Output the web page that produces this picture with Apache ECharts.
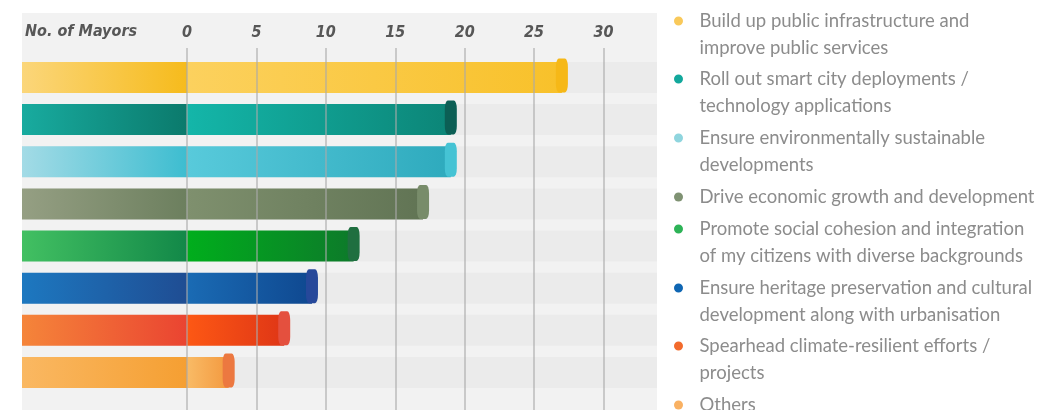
<!DOCTYPE html>
<html><head><meta charset="utf-8">
<script src="https://cdn.jsdelivr.net/npm/echarts@6/dist/echarts.min.js"></script>
<style>html,body{margin:0;padding:0;background:#fff}#c{width:1046px;height:410px}</style>
</head><body><div id="c"></div>
<script>
// ---- data ----
const categories = [
  'Build up public infrastructure and\nimprove public services',
  'Roll out smart city deployments /\ntechnology applications',
  'Ensure environmentally sustainable\ndevelopments',
  'Drive economic growth and development',
  'Promote social cohesion and integration\nof my citizens with diverse backgrounds',
  'Ensure heritage preservation and cultural\ndevelopment along with urbanisation',
  'Spearhead climate-resilient efforts /\nprojects',
  'Others'
];
const values = [27, 19, 19, 17, 12, 9, 7, 3];
const xTicks = [0, 5, 10, 15, 20, 25, 30];
const axisName = 'No. of Mayors';

// ---- styles ----
const dotColors = ['#f9c95a','#12a89c','#8fd5de','#7f9273','#2db357','#0f66b3','#f26a2c','#f9b163'];
const leftGrad = [['#fbd67a','#f6bb1c'],['#18ab9f','#0b7a6c'],['#a3dbe6','#3dbdd0'],['#959f83','#6c7f5e'],
                  ['#42c062','#128848'],['#1d78c0','#1f4d93'],['#f5853a','#ea4431'],['#fab862','#f59f32']];
const rightGrad = [['#fcd15e','#f8c12a'],['#14b6a9','#0c8577'],['#58cadb','#2eaabd'],['#7f906e','#617454'],
                   ['#00ae1c','#0d7a2a'],['#1a6bb4','#0f4890'],['#fd5814','#df3616'],['#f9bb66','#f3993f']];
const curlColors = ['#f6b817','#0c5f55','#45c3d4','#788c6a','#1f6f40','#26489a','#e4503e','#ec7840'];
const lineCenters = [21, 79, 138, 197, 229, 288, 346, 405];

const LEFT_MIN = -11.885, X_MAX = 33.85;
const headFont = {fontFamily: 'DejaVu Sans Condensed', fontStyle: 'italic', fontWeight: 'bold', fontSize: 16, color: '#575757'};
const TOP_DOT = 'path://M0,4.5A4.5,4.5,0,1,1,9,4.5A4.5,4.5,0,1,1,0,4.5ZM4.5,36L4.5,36.01Z';

function grad(c){ return new echarts.graphic.LinearGradient(0,0,1,0,[{offset:0,color:c[0]},{offset:1,color:c[1]}]); }

const series = [];
series.push({
  type: 'bar', stack: 'row', xAxisIndex: 1, yAxisIndex: 1, barWidth: 31, silent: true,
  showBackground: true, backgroundStyle: {color: '#ebebeb'},
  data: values.map((v,i)=>({value: LEFT_MIN, itemStyle: {color: grad(leftGrad[i])}}))
});
categories.forEach((name,i)=>{
  series.push({
    name: name, type: 'bar', stack: 'row', xAxisIndex: 1, yAxisIndex: 1, barWidth: 31, silent: true,
    itemStyle: {color: grad(rightGrad[i])},
    data: values.map((v,j)=> j===i ? v : 0)
  });
});
series.push({
  type: 'pictorialBar', xAxisIndex: 1, yAxisIndex: 1, silent: true, z: 4,
  symbol: 'roundRect', symbolSize: [12, 34], symbolPosition: 'end', symbolOffset: [6, -2],
  data: values.map((v,i)=>({value: v, itemStyle: {color: curlColors[i]}}))
});

const legends = categories.map((name,i)=>{
  const twoLine = name.indexOf('\n') >= 0;
  return {
    data: [{name: name, itemStyle: {color: dotColors[i]}}],
    icon: twoLine ? TOP_DOT : 'circle', orient: 'vertical', left: 674, padding: 0,
    top: lineCenters[i] - 13.5,
    itemWidth: 32, itemHeight: twoLine ? 36 : 9, selectedMode: false,
    textStyle: {fontFamily: 'Lato', fontSize: 18.5, color: '#8c8c8c', lineHeight: 27}
  };
});

const option = {
  animation: false,
  backgroundColor: '#ffffff',
  graphic: [{type: 'rect', z: -10, shape: {x: 22, y: 13, width: 635, height: 397}, style: {fill: '#f2f2f2'}}],
  title: {text: axisName, left: 25, top: 24, padding: 0, textStyle: headFont},
  legend: legends,
  grid: [
    {left: 187, right: 389, top: 48, bottom: 0, outerBoundsMode: 'none'},
    {left: 22, right: 389, top: 56.4, bottom: 16.5, outerBoundsMode: 'none'}
  ],
  xAxis: [
    {type: 'value', gridIndex: 0, position: 'top', min: xTicks[0], max: X_MAX, interval: 5, z: 10,
     axisLine: {show: false}, axisTick: {show: false},
     axisLabel: Object.assign({margin: 7, showMaxLabel: false,
        formatter: v => xTicks.indexOf(v) >= 0 ? String(v) : ''}, headFont),
     splitLine: {show: true, showMaxLine: false, lineStyle: {color: 'rgba(170,170,170,0.75)', width: 1.5}}},
    {type: 'value', gridIndex: 1, min: LEFT_MIN, max: X_MAX, show: false}
  ],
  yAxis: [
    {type: 'value', gridIndex: 0, min: 0, max: 1, show: false},
    {type: 'category', gridIndex: 1, data: categories, inverse: true, show: false}
  ],
  series: series
};
echarts.init(document.getElementById('c'), null, {renderer: 'canvas'}).setOption(option);
</script></body></html>
